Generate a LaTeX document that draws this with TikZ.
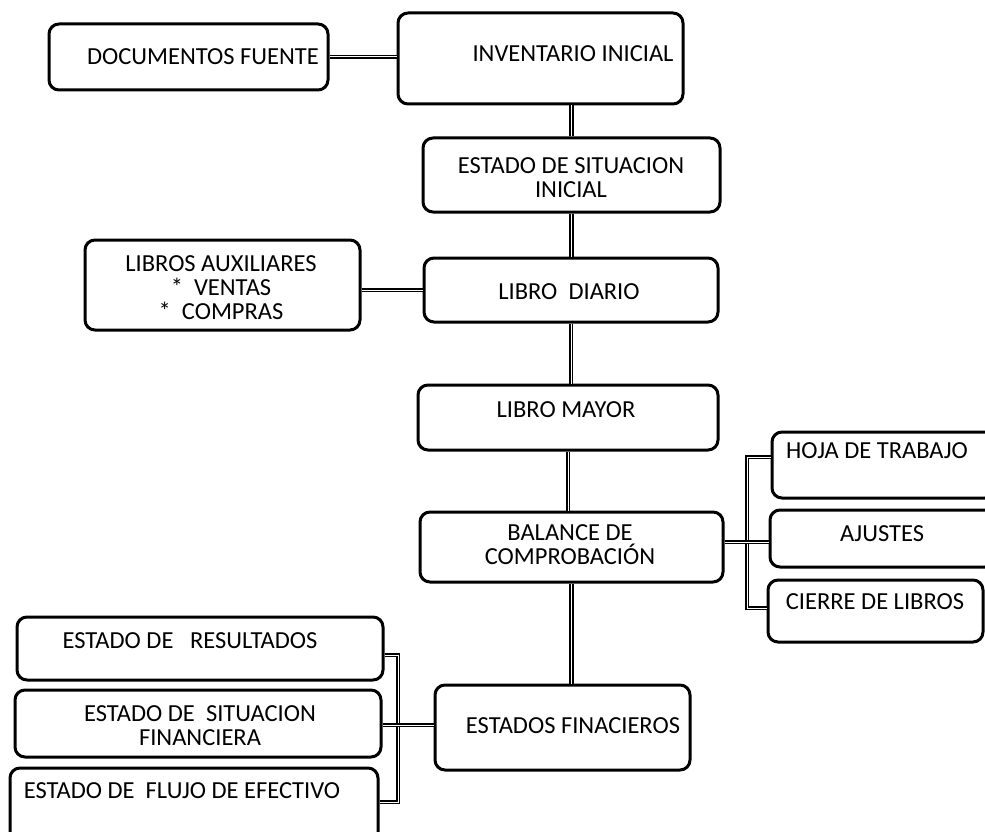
\documentclass[tikz,border=0pt]{standalone}
\usepackage{fontspec}
\setmainfont{Carlito}
\begin{document}
\begin{tikzpicture}[x=1pt,y=-1pt,
  box/.style={draw=black, line width=3pt, rounded corners=10pt, inner sep=0pt, fill=white},
  txt/.style={align=center, inner sep=0pt, font=\fontsize{24.5}{24}\selectfont},
  conn/.style={draw=black, line width=1.9pt, double=white, double distance=1pt}]
\path[use as bounding box, clip] (0,0) rectangle (985,832);
\fill[white] (0,0) rectangle (985,832);
% boxes
\node[box, minimum width=279pt, minimum height=66pt] (docf) at (188.5,57) {};
\node[box, minimum width=285pt, minimum height=91pt] (inv) at (540.5,58.5) {};
\node[box, minimum width=297pt, minimum height=74pt] (esi) at (571.5,175) {};
\node[box, minimum width=275pt, minimum height=90pt] (laux) at (222.5,285) {};
\node[box, minimum width=294pt, minimum height=64pt] (ldia) at (571,290) {};
\node[box, minimum width=300pt, minimum height=65pt] (lmay) at (568,417.5) {};
\node[box, minimum width=303pt, minimum height=70pt] (bal) at (571.5,547) {};
\node[box, minimum width=223pt, minimum height=66pt] (hoja) at (883.5,465) {};
\node[box, minimum width=225pt, minimum height=57pt] (aju) at (882.5,538.5) {};
\node[box, minimum width=215pt, minimum height=62pt] (cier) at (875.5,611) {};
\node[box, minimum width=366pt, minimum height=63pt] (eres) at (200,648.5) {};
\node[box, minimum width=366pt, minimum height=67pt] (esf) at (198,723.5) {};
\node[box, minimum width=368pt, minimum height=77pt] (efe) at (194,806.5) {};
\node[box, minimum width=255pt, minimum height=85pt] (efin) at (562.5,727.5) {};
% texts
\node[txt] (tdocf) at (203,57) {DOCUMENTOS FUENTE};
\node[txt] (tinv) at (573,54) {INVENTARIO INICIAL};
\node[txt] (tesi) at (571,178) {ESTADO DE SITUACION\\INICIAL};
\node[txt] (tlaux) at (221,288) {LIBROS AUXILIARES\\*\ \ VENTAS\\*\ \ COMPRAS};
\node[txt] (tldia) at (569,292) {LIBRO\ \ DIARIO};
\node[txt] (tlmay) at (566,410) {LIBRO MAYOR};
\node[txt] (tbal) at (570,545) {BALANCE DE\\COMPROBACIÓN};
\node[txt] (thoja) at (877,451) {HOJA DE TRABAJO};
\node[txt] (taju) at (882,534) {AJUSTES};
\node[txt] (tcier) at (875,602) {CIERRE DE LIBROS};
\node[txt] (teres) at (190,641) {ESTADO DE\ \ \ RESULTADOS};
\node[txt] (tesf) at (200,726) {ESTADO DE\ \ SITUACION\\FINANCIERA};
\node[txt] (tefe) at (182,791) {ESTADO DE\ \ FLUJO DE EFECTIVO};
\node[txt] (tefin) at (573,726) {ESTADOS FINACIEROS};
% spine
\draw[conn] (inv.south -| esi.north) -- (esi.north);
\draw[conn] (esi.south) -- (esi.south |- ldia.north);
\draw[conn] (ldia.south) -- (ldia.south |- lmay.north);
\draw[conn] (lmay.south) -- (lmay.south |- bal.north);
\draw[conn] (bal.south) -- (bal.south |- efin.north);
% side links
\draw[conn] (docf.east) -- (docf.east -| inv.west);
\draw[conn] (ldia.west) -- (ldia.west -| laux.east);
% right bracket
\coordinate (rb1) at (747,457);
\coordinate (rb2) at (747,542);
\coordinate (rb3) at (747,608);
\draw[conn] (rb1 -| hoja.west) -- (rb1) -- (rb3) -- (rb3 -| cier.west);
\draw[conn] (rb2 -| bal.east) -- (rb2 -| aju.west);
% left bracket
\coordinate (lb1) at (398,655);
\coordinate (lb2) at (398,725);
\coordinate (lb3) at (398,802);
\draw[conn] (lb1 -| eres.east) -- (lb1) -- (lb3) -- (lb3 -| efe.east);
\draw[conn] (lb2 -| esf.east) -- (lb2 -| efin.west);
\end{tikzpicture}
\end{document}
